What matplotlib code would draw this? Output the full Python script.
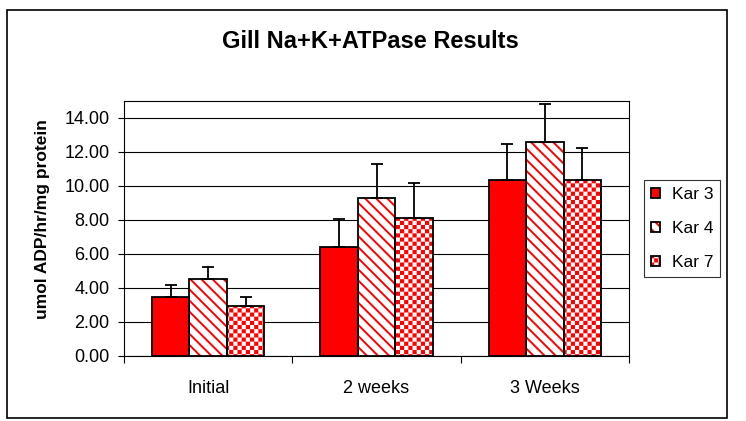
import warnings
import numpy as np
import matplotlib
matplotlib.use("Agg")
import matplotlib.pyplot as plt
import matplotlib.hatch as mhatch
from matplotlib.path import Path
from matplotlib.patches import Patch, Rectangle
from matplotlib.legend_handler import HandlerTuple

warnings.filterwarnings("ignore", category=matplotlib.MatplotlibDeprecationWarning)

categories = ["Initial", "2 weeks", "3 Weeks"]
series_names = ["Kar 3", "Kar 4", "Kar 7"]
kar3 = [3.49, 6.44, 10.33]
kar4 = [4.55, 9.27, 12.60]
kar7 = [2.96, 8.09, 10.33]
kar3_err = [0.71, 1.59, 2.12]
kar4_err = [0.71, 2.00, 2.20]
kar7_err = [0.51, 2.06, 1.92]
yticks = [0, 2, 4, 6, 8, 10, 12, 14]

HATCH_LW = 1.4  # points


class CheckerHatch(mhatch.HatchPatternBase):
    # red/white checkerboard, 'c' = 6 periods per inch
    def __init__(self, hatch, density):
        self.periods = hatch.count('c') * density
        self.num_vertices = 5 * 2 * self.periods ** 2

    def set_vertices_and_codes(self, vertices, codes):
        n2 = 2 * self.periods
        s = 1.0 / n2
        shrink = HATCH_LW / 72.0 / 2.0  # stroke adds this much back
        k = 0
        for i in range(n2):
            for j in range(n2):
                if (i + j) % 2:
                    continue
                x0, y0 = i * s + shrink, j * s + shrink
                x1, y1 = (i + 1) * s - shrink, (j + 1) * s - shrink
                vertices[k:k + 5] = [(x0, y0), (x1, y0), (x1, y1), (x0, y1), (x0, y0)]
                codes[k:k + 5] = [Path.MOVETO, Path.LINETO, Path.LINETO,
                                  Path.LINETO, Path.CLOSEPOLY]
                k += 5


mhatch._hatch_types.append(CheckerHatch)

plt.rcParams['font.family'] = ['Liberation Sans', 'DejaVu Sans']
plt.rcParams['hatch.linewidth'] = HATCH_LW

fig = plt.figure(figsize=(7.46, 4.21), dpi=100)
fig.patches.append(Rectangle((7 / 746, 3 / 421), 720 / 746, 408 / 421,
                             transform=fig.transFigure, fill=False,
                             edgecolor='black', linewidth=1.2))
ax = fig.add_axes([124 / 746, 65 / 421, 505 / 746, 255 / 421])

x = np.arange(len(categories))
width = 1.0 / 4.5
red = '#FF0000'

styles = [
    dict(facecolor=red, hatch=None),
    dict(facecolor='white', hatch='\\\\\\'),
    dict(facecolor='white', hatch='cc'),
]
values = [kar3, kar4, kar7]
errors = [kar3_err, kar4_err, kar7_err]

handles = []
for i, (vals, errs, st) in enumerate(zip(values, errors, styles)):
    pos = x + (i - 1) * width
    ax.bar(pos, vals, width, facecolor=st['facecolor'], edgecolor=red,
           hatch=st['hatch'], linewidth=0, zorder=2)
    ax.bar(pos, vals, width, fill=False, edgecolor='black', linewidth=1.3, zorder=3)
    ax.errorbar(pos, vals, yerr=[np.zeros(len(vals)), errs], fmt='none',
                ecolor='black', elinewidth=1.3, capsize=4.3, capthick=1.3, zorder=4)
    handles.append((Patch(facecolor=st['facecolor'], edgecolor=red,
                          hatch=st['hatch'], linewidth=0),
                    Patch(fill=False, edgecolor='black', linewidth=1.3)))

ax.set_xlim(-0.5, len(categories) - 0.5)
ax.set_ylim(0, 15)
ax.set_yticks(yticks)
ax.set_yticklabels([f"{v:.2f}" for v in yticks])
ax.yaxis.grid(True, color='black', linewidth=0.8)
ax.set_axisbelow(True)
ax.set_xticks(x)
ax.set_xticklabels(categories)
ax.set_xticks(np.arange(len(categories) + 1) - 0.5, minor=True)
ax.tick_params(axis='x', which='major', length=0, pad=17, labelsize=13)
ax.tick_params(axis='x', which='minor', length=5, width=0.8, direction='out')
ax.tick_params(axis='y', length=4.3, width=0.8, direction='out', pad=6, labelsize=13)
for sp in ax.spines.values():
    sp.set_linewidth(0.8)
    sp.set_color('black')

fig.text(370 / 746, 1 - 42 / 421, "Gill Na+K+ATPase Results", ha='center', va='center',
         fontsize=17, fontweight='bold')
fig.text(43 / 746, 1 - 219 / 421, "umol ADP/hr/mg protein", ha='center', va='center',
         rotation=90, fontsize=12.5, fontweight='bold')

leg = fig.legend(handles, series_names, handler_map={tuple: HandlerTuple(ndivide=1)},
                 loc='center', bbox_to_anchor=(682 / 746, 1 - 228.5 / 421),
                 fontsize=12.5, frameon=True, fancybox=False, shadow=False,
                 handlelength=0.5, handleheight=0.5, handletextpad=0.7,
                 labelspacing=1.1, borderpad=0.4, borderaxespad=0)
leg.get_frame().set_edgecolor('black')
leg.get_frame().set_linewidth(0.8)

fig.savefig("out.png", dpi=100)
